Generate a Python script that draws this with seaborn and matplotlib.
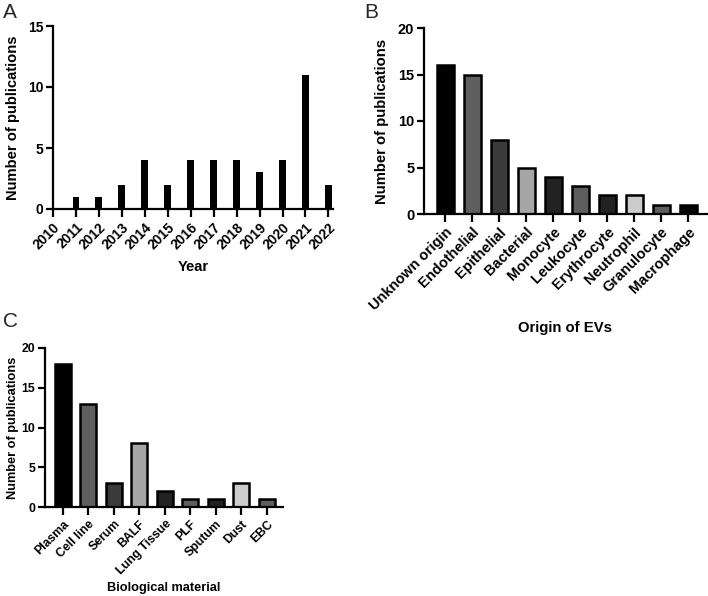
import matplotlib
matplotlib.use("Agg")
import matplotlib.pyplot as plt
import seaborn as sns
import pandas as pd

# Data
years = ["2010", "2011", "2012", "2013", "2014", "2015", "2016", "2017", "2018", "2019", "2020", "2021", "2022"]
year_counts = [0, 1, 1, 2, 4, 2, 4, 4, 4, 3, 4, 11, 2]

origins = ["Unknown origin", "Endothelial", "Epithelial", "Bacterial", "Monocyte",
           "Leukocyte", "Erythrocyte", "Neutrophil", "Granulocyte", "Macrophage"]
origin_counts = [16, 15, 8, 5, 4, 3, 2, 2, 1, 1]
origin_colors = ["#000000", "#5e5e5e", "#3a3a3a", "#a6a6a6", "#222222",
                 "#5e5e5e", "#222222", "#cccccc", "#5e5e5e", "#000000"]

materials = ["Plasma", "Cell line", "Serum", "BALF", "Lung Tissue", "PLF", "Sputum", "Dust", "EBC"]
material_counts = [18, 13, 3, 8, 2, 1, 1, 3, 1]
material_colors = ["#000000", "#5e5e5e", "#3a3a3a", "#a6a6a6", "#222222",
                   "#5e5e5e", "#222222", "#cccccc", "#5e5e5e"]

sns.set_theme(style="ticks")
plt.rcParams["font.family"] = ["Liberation Sans", "DejaVu Sans"]
plt.rcParams["font.weight"] = "bold"

fig = plt.figure(figsize=(7.08, 5.96), dpi=100)
W, H = 708, 596

def add_ax(l, r, t, b):
    return fig.add_axes([l / W, 1 - b / H, (r - l) / W, (b - t) / H])

def style(ax, ticksize, labelsize, xlabels, xlabel, xlab_y, ylab_x):
    sns.despine(ax=ax)
    for s in ["left", "bottom"]:
        ax.spines[s].set_linewidth(1.6)
        ax.spines[s].set_color("black")
    ax.tick_params(axis="y", width=1.6, length=5, color="black",
                   labelsize=ticksize, labelcolor="black", pad=2)
    ax.tick_params(axis="x", width=1.6, length=6, color="black",
                   labelsize=ticksize, labelcolor="black", pad=2)
    for lab in ax.get_yticklabels():
        lab.set_fontweight("bold")
    ax.set_xticks(range(len(xlabels)))
    ax.set_xticklabels(xlabels, rotation=45, ha="right", rotation_mode="anchor",
                       fontweight="bold", fontsize=ticksize)
    ax.set_ylabel("Number of publications", fontsize=labelsize, fontweight="bold", color="black")
    ax.set_xlabel(xlabel, fontsize=labelsize, fontweight="bold", color="black")
    ax.xaxis.set_label_coords(0.5, xlab_y)
    ax.xaxis.label.set_va("center")
    ax.yaxis.set_label_coords(ylab_x, 0.5)

# Panel A
axA = add_ax(53, 333, 26, 209)
dfA = pd.DataFrame({"Year": years, "Count": year_counts})
sns.barplot(data=dfA, x="Year", y="Count", order=years, color="black",
            width=0.3, linewidth=0, saturation=1, ax=axA)
axA.set_xlim(0, 12.2)
axA.set_ylim(0, 15)
axA.set_yticks([0, 5, 10, 15])
style(axA, 10, 10.6, years, "Year", (209 - 267) / 183, (20 - 53) / 280)

# Panel B
axB = add_ax(424, 707, 28, 214)
dfB = pd.DataFrame({"Origin": origins, "Count": origin_counts})
sns.barplot(data=dfB, x="Origin", y="Count", order=origins, hue="Origin",
            palette=origin_colors, legend=False, width=0.63, linewidth=1.8,
            edgecolor="black", saturation=1, ax=axB)
axB.set_xlim(-0.78, 9.7)
axB.set_ylim(0, 20)
axB.set_yticks([0, 5, 10, 15, 20])
style(axB, 10.5, 10.7, origins, "Origin of EVs", (214 - 328) / 186, (389 - 424) / 283)

# Panel C
axC = add_ax(45, 283, 348, 507)
dfC = pd.DataFrame({"Material": materials, "Count": material_counts})
sns.barplot(data=dfC, x="Material", y="Count", order=materials, hue="Material",
            palette=material_colors, legend=False, width=0.63, linewidth=1.8,
            edgecolor="black", saturation=1, ax=axC)
axC.set_xlim(-0.7, 8.63)
axC.set_ylim(0, 20)
axC.set_yticks([0, 5, 10, 15, 20])
style(axC, 8.8, 9.2, materials, "Biological material", (507 - 588) / 159, (19 - 45) / 238)

# Panel letters
fig.text(3 / W, 1 - 3 / H, "A", fontsize=15, fontweight="normal", va="top", ha="left")
fig.text(364 / W, 1 - 3 / H, "B", fontsize=15, fontweight="normal", va="top", ha="left")
fig.text(3 / W, 1 - 312 / H, "C", fontsize=15, fontweight="normal", va="top", ha="left")

fig.savefig("out.png", dpi=100)
